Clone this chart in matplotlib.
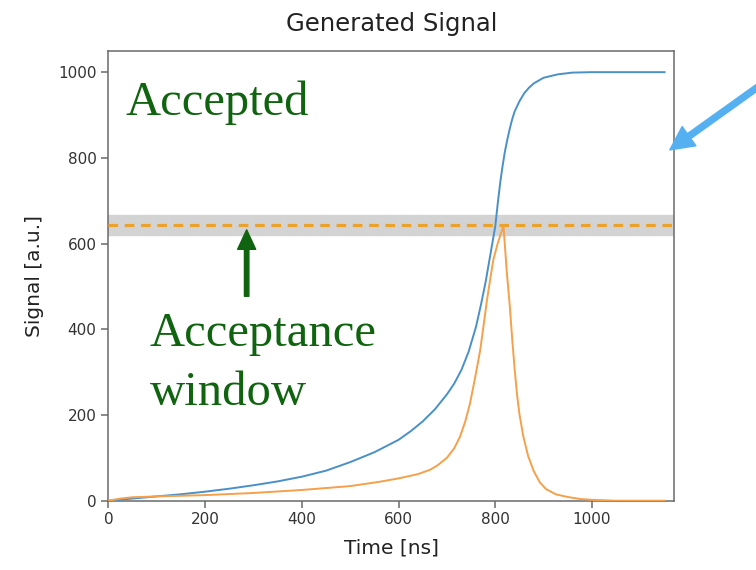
import numpy as np
import matplotlib.pyplot as plt

# values
t_blue = [0, 50, 100, 150, 200, 250, 300, 350, 400, 450, 500, 550, 600, 625,
          650, 675, 700, 715, 730, 745, 760, 770, 780, 790, 800, 805, 810,
          815, 820, 825, 830, 835, 840, 850, 860, 870, 880, 900, 930, 960,
          1000, 1050, 1100, 1150]
sig_blue = [0, 5, 10, 15, 21, 28, 36, 45, 56, 70, 90, 113, 142, 162,
            185, 213, 248, 273, 305, 348, 405, 455, 510, 575, 640, 692, 740,
            780, 815, 843, 868, 890, 908, 932, 951, 964, 974, 987, 995, 999,
            1000, 1000, 1000, 1000]

t_orange = [0, 25, 50, 100, 200, 300, 400, 500, 560, 600, 640, 665, 680, 700,
            715, 727, 738, 748, 758, 769, 776, 783, 790, 796, 805, 812, 817,
            824, 830, 835, 840, 845, 850, 858, 868, 880, 892, 905, 925, 948,
            975, 1000, 1050, 1100, 1150]
sig_orange = [0, 5, 8, 10, 13, 18, 25, 34, 44, 52, 62, 72, 82, 100,
              122, 149, 185, 228, 285, 352, 410, 469, 520, 562, 600, 625, 641,
              532, 455, 378, 308, 248, 202, 150, 104, 68, 43, 27, 15, 9,
              4, 2, 0, 0, 0]

threshold = 643
window_halfwidth = 24

fig = plt.figure(figsize=(7.56, 5.70), dpi=100)
ax = fig.add_axes([0.1433, 0.1216, 0.7485, 0.7894])

ax.axhspan(threshold - window_halfwidth, threshold + window_halfwidth,
           color='#d3d3d3', zorder=1)
ax.plot(t_blue, sig_blue, color='#4a90c8', lw=1.4, zorder=3)
ax.plot(t_orange, sig_orange, color='#f5a04a', lw=1.4, zorder=3)
ax.axhline(threshold, color='#eba22a', lw=2.3, ls=(0, (3.0, 2.1)), zorder=4)

ax.set_xlim(0, 1170)
ax.set_ylim(0, 1050)
ax.set_xticks([0, 200, 400, 600, 800, 1000])
ax.set_yticks([0, 200, 400, 600, 800, 1000])

for s in ax.spines.values():
    s.set_color('#6a6a6a')
    s.set_linewidth(1.1)
ax.tick_params(colors='#6a6a6a', labelcolor='#333333', labelsize=11,
               length=5, width=1.1)

ax.set_title("Generated Signal", fontsize=17.5, color='#222222', pad=14)
ax.set_xlabel("Time [ns]", fontsize=14.5, color='#222222', labelpad=8)
ax.set_ylabel("Signal [a.u.]", fontsize=14.5, color='#222222', labelpad=10)

green = '#106410'
serif = 'Liberation Serif'
ax.text(35, 901, "Accepted", family=serif, fontsize=35, color=green,
        ha='left', va='baseline', zorder=5)
ax.text(86, 360, "Acceptance", family=serif, fontsize=35, color=green,
        ha='left', va='baseline', zorder=5)
ax.text(86, 223, "window", family=serif, fontsize=35, color=green,
        ha='left', va='baseline', zorder=5)

ax.annotate('', xy=(286, 632), xytext=(286, 477),
            arrowprops=dict(facecolor=green, edgecolor=green, width=3.2,
                            headwidth=13, headlength=14, shrink=0),
            zorder=6)

# blue pointer coming in from the right edge of the figure
ax.annotate('', xy=(0.886, 0.737), xycoords='figure fraction',
            xytext=(1.04, 0.883), textcoords='figure fraction',
            arrowprops=dict(facecolor='#55b0f2', edgecolor='#55b0f2',
                            width=4.3, headwidth=17, headlength=17, shrink=0),
            annotation_clip=False)

fig.savefig("out.png", dpi=100)
